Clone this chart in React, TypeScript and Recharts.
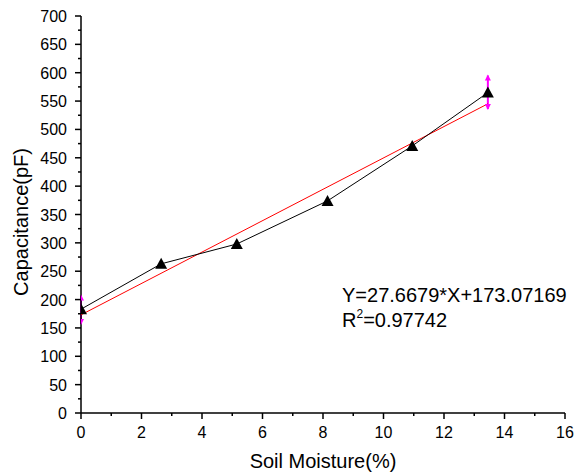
import React from 'react';
import { ComposedChart, Scatter, XAxis, YAxis, ErrorBar } from 'recharts';

const moisture = [0, 2.65, 5.15, 8.15, 10.95, 13.45];
const capacitance = [183, 263, 298, 374, 471, 565];
const fitX = [0, 13.45];
const fitY = [173.07, 545.2];
const errX = [0, 13.45];
const errY = [182, 565];
const errLow = [25, 29];
const errHigh = [25, 30];
const xTicks = [0, 1, 2, 3, 4, 5, 6, 7, 8, 9, 10, 11, 12, 13, 14, 15, 16];
const yTicks = Array.from({ length: 29 }, (_, i) => i * 25);

const measured = moisture.map((x, i) => ({ x, y: capacitance[i] }));
const fit = fitX.map((x, i) => ({ x, y: fitY[i] }));
const errs = errX.map((x, i) => ({ x, y: errY[i], e: [errLow[i], errHigh[i]] }));
const tips = errX.flatMap((x, i) => [
  { x, y: errY[i] + errHigh[i], dir: 'up' },
  { x, y: errY[i] - errLow[i], dir: 'down' },
]);

const FONT = '"Liberation Sans", Arial, sans-serif';

const YTick = (props: any) => {
  const { x, y, payload } = props;
  const v = payload.value;
  const major = v % 50 === 0;
  return (
    <g>
      <line x1={x} x2={x - (major ? 6 : 3)} y1={y} y2={y} stroke="#000" strokeWidth={1.5} />
      {major && (
        <text x={x - 14} y={y} dy={6} textAnchor="end" fontSize={16} fontFamily={FONT} fill="#000">
          {v}
        </text>
      )}
    </g>
  );
};

const XTick = (props: any) => {
  const { x, y, payload } = props;
  const v = payload.value;
  const major = v % 2 === 0;
  return (
    <g>
      <line x1={x} x2={x} y1={y} y2={y + (major ? 6 : 3)} stroke="#000" strokeWidth={1.5} />
      {major && (
        <text x={x} y={y + 25} textAnchor="middle" fontSize={16} fontFamily={FONT} fill="#000">
          {v}
        </text>
      )}
    </g>
  );
};

const Triangle = (props: any) => {
  const { cx, cy } = props;
  if (cx == null || cy == null) return null;
  return <path d={`M${cx},${cy - 6} L${cx + 6},${cy + 5} L${cx - 6},${cy + 5} Z`} fill="#000" />;
};

const Arrow = (props: any) => {
  const { cx, cy, payload } = props;
  if (cx == null || cy == null) return null;
  const s = payload.dir === 'up' ? -1 : 1;
  return (
    <path
      d={`M${cx},${cy + s * 1} L${cx + 3},${cy - s * 5} L${cx - 3},${cy - s * 5} Z`}
      fill="#ff00ff"
    />
  );
};

const Nothing = () => null;

export default function App() {
  return (
    <div style={{ position: 'fixed', left: 0, top: 0, width: 586, height: 472, background: '#fff' }}>
      <ComposedChart width={586} height={472} margin={{ top: 16, right: 21, bottom: 0, left: 0 }}>
        <XAxis
          type="number"
          dataKey="x"
          domain={[0, 16]}
          ticks={xTicks}
          interval={0}
          tickSize={0}
          tickMargin={0}
          tickLine={false}
          tick={<XTick />}
          height={59}
          axisLine={{ stroke: '#000', strokeWidth: 1.5 }}
          allowDataOverflow
        />
        <YAxis
          type="number"
          dataKey="y"
          domain={[0, 700]}
          ticks={yTicks}
          interval={0}
          tickSize={0}
          tickMargin={0}
          tickLine={false}
          tick={<YTick />}
          width={81}
          axisLine={{ stroke: '#000', strokeWidth: 1.5 }}
          allowDataOverflow
        />
        <Scatter
          data={fit}
          line={{ stroke: '#ff0000', strokeWidth: 1 }}
          shape={<Nothing />}
          isAnimationActive={false}
        />
        <Scatter data={errs} shape={<Nothing />} isAnimationActive={false}>
          <ErrorBar dataKey="e" direction="y" stroke="#ff00ff" strokeWidth={2} width={0} />
        </Scatter>
        <Scatter data={tips} shape={<Arrow />} isAnimationActive={false} />
        <Scatter
          data={measured}
          line={{ stroke: '#000', strokeWidth: 1 }}
          shape={<Triangle />}
          isAnimationActive={false}
        />
      </ComposedChart>
      <svg
        width={586}
        height={472}
        style={{ position: 'absolute', left: 0, top: 0, pointerEvents: 'none' }}
      >
        <text
          x={0}
          y={0}
          transform="translate(28, 222) rotate(-90)"
          textAnchor="middle"
          fontSize={20}
          fontFamily={FONT}
          fill="#000"
        >
          Capacitance(pF)
        </text>
        <text x={323} y={468} textAnchor="middle" fontSize={20} fontFamily={FONT} fill="#000">
          Soil Moisture(%)
        </text>
        <text x={342} y={302} fontSize={20} fontFamily={FONT} fill="#000">
          Y=27.6679*X+173.07169
        </text>
        <text x={342} y={327} fontSize={20} fontFamily={FONT} fill="#000">
          R<tspan fontSize={12} dy={-9}>2</tspan>
          <tspan dy={9}>=0.97742</tspan>
        </text>
      </svg>
    </div>
  );
}
